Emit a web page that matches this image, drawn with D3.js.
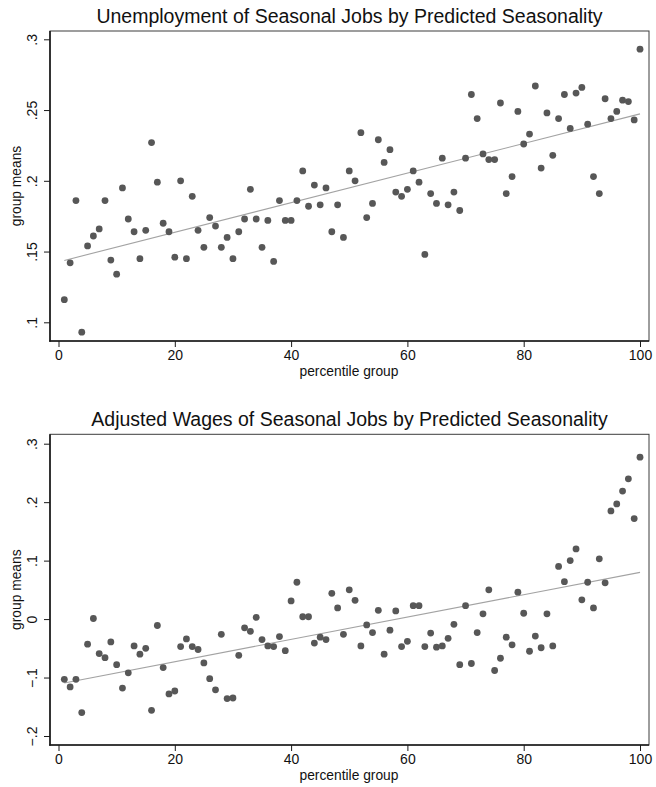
<!DOCTYPE html>
<html>
<head>
<meta charset="utf-8">
<script src="https://cdn.jsdelivr.net/npm/d3@7/dist/d3.min.js"></script>
<style>
  html, body { margin: 0; padding: 0; background: #fff; }
  svg { display: block; font-family: "Liberation Sans", Arial, Helvetica, sans-serif; }
</style>
</head>
<body>
<div id="chart"></div>
<script>
// percentile groups 1..100 (x categories)
const pctGroups = d3.range(1, 101);

// group means
const unempMeans = [
  0.116, 0.142, 0.186, 0.093, 0.154, 0.161, 0.166, 0.186, 0.144, 0.134,
  0.195, 0.173, 0.164, 0.145, 0.165, 0.227, 0.199, 0.170, 0.164, 0.146,
  0.200, 0.145, 0.189, 0.165, 0.153, 0.174, 0.168, 0.153, 0.160, 0.145,
  0.164, 0.173, 0.194, 0.173, 0.153, 0.172, 0.143, 0.186, 0.172, 0.172,
  0.186, 0.207, 0.182, 0.197, 0.183, 0.195, 0.164, 0.183, 0.160, 0.207,
  0.200, 0.234, 0.174, 0.184, 0.229, 0.213, 0.222, 0.192, 0.189, 0.194,
  0.207, 0.199, 0.148, 0.191, 0.184, 0.216, 0.183, 0.192, 0.179, 0.216,
  0.261, 0.244, 0.219, 0.215, 0.215, 0.255, 0.191, 0.203, 0.249, 0.226,
  0.233, 0.267, 0.209, 0.248, 0.218, 0.244, 0.261, 0.237, 0.262, 0.266,
  0.240, 0.203, 0.191, 0.258, 0.244, 0.249, 0.257, 0.256, 0.243, 0.293
];

const wageMeans = [
  -0.103, -0.116, -0.103, -0.160, -0.043, 0.001, -0.059, -0.066, -0.039, -0.078,
  -0.118, -0.092, -0.046, -0.060, -0.050, -0.156, -0.011, -0.083, -0.128, -0.123,
  -0.047, -0.034, -0.047, -0.052, -0.075, -0.102, -0.121, -0.026, -0.136, -0.135,
  -0.062, -0.015, -0.021, 0.003, -0.035, -0.046, -0.047, -0.030, -0.054, 0.031,
  0.063, 0.004, 0.004, -0.041, -0.031, -0.035, 0.044, 0.019, -0.026, 0.050,
  0.032, -0.046, -0.010, -0.023, 0.015, -0.060, -0.019, 0.014, -0.047, -0.038,
  0.023, 0.023, -0.047, -0.024, -0.048, -0.046, -0.033, -0.009, -0.078, 0.023,
  -0.076, -0.023, 0.009, 0.050, -0.088, -0.067, -0.031, -0.044, 0.046, 0.010,
  -0.055, -0.029, -0.049, 0.009, -0.046, 0.090, 0.064, 0.100, 0.120, 0.033,
  0.063, 0.019, 0.103, 0.062, 0.185, 0.197, 0.219, 0.240, 0.172, 0.277
];

const xTicks = [0, 20, 40, 60, 80, 100];
const unempTicks = [0.1, 0.15, 0.2, 0.25, 0.3];
const unempTickLabels = [".1", ".15", ".2", ".25", ".3"];
const wageTicks = [-0.2, -0.1, 0, 0.1, 0.2, 0.3];
const wageTickLabels = ["\u2212.2", "\u2212.1", "0", ".1", ".2", ".3"];

const titles = [
  "Unemployment of Seasonal Jobs by Predicted Seasonality",
  "Adjusted Wages of Seasonal Jobs by Predicted Seasonality"
];
const xTitle = "percentile group";
const yTitle = "group means";

const W = 656, H = 787;
const svg = d3.select("#chart").append("svg")
  .attr("width", W).attr("height", H).attr("viewBox", `0 0 ${W} ${H}`);
svg.append("rect").attr("width", W).attr("height", H).attr("fill", "#fff");

const DOT = "#575757", FIT = "#a3a3a3", AXIS = "#1a1a1a";

// simple least-squares fit
function olsFit(xs, ys){
  const mx = d3.mean(xs), my = d3.mean(ys);
  let sxy = 0, sxx = 0;
  xs.forEach((x,i)=>{ sxy += (x-mx)*(ys[i]-my); sxx += (x-mx)*(x-mx); });
  const b = sxy/sxx;
  return { a: my - b*mx, b };
}

function drawPanel(p){
  const { frameTop, frameBottom, yDomain, yRange, ticks, tickLabels, title, values } = p;
  const left = 50, right = 649;
  const x = d3.scaleLinear().domain([0, 100]).range([58.5, 640]);
  const y = d3.scaleLinear().domain(yDomain).range(yRange);
  const g = svg.append("g");

  // plot region border
  g.append("rect")
    .attr("x", left).attr("y", frameTop)
    .attr("width", right-left).attr("height", frameBottom-frameTop)
    .attr("fill", "none").attr("stroke", "#3c3c3c").attr("stroke-width", 1);

  // title
  g.append("text")
    .attr("x", (left+right)/2).attr("y", frameTop - 8.5)
    .attr("text-anchor", "middle")
    .style("font-size", "19.5px").attr("fill", "#111")
    .text(title);

  // fit line
  const fit = olsFit(pctGroups, values);
  const line = d3.line().x(d=>x(d)).y(d=>y(fit.a + fit.b*d));
  g.append("path").datum([pctGroups[0], pctGroups[pctGroups.length-1]])
    .attr("d", line).attr("fill", "none")
    .attr("stroke", FIT).attr("stroke-width", 1.1);

  // points
  g.selectAll("circle.pt").data(pctGroups).enter().append("circle")
    .attr("class", "pt")
    .attr("cx", d=>x(d))
    .attr("cy", (d,i)=>y(values[i]))
    .attr("r", 3.4)
    .attr("fill", DOT);

  // y axis
  const yAxis = d3.axisLeft(y).tickValues(ticks).tickSize(6).tickSizeOuter(0)
    .tickFormat((d,i)=>tickLabels[i]);
  const ya = g.append("g").attr("transform", `translate(${left},0)`).call(yAxis);
  ya.select(".domain").remove();
  ya.selectAll(".tick line").attr("stroke", AXIS);
  ya.selectAll(".tick text")
    .attr("transform", "rotate(-90)")
    .attr("x", 0).attr("y", -13).attr("dy", 0)
    .attr("text-anchor", "middle")
    .style("font-size", "14px").attr("fill", "#111");

  // x axis
  const xAxis = d3.axisBottom(x).tickValues(xTicks).tickSize(6).tickSizeOuter(0);
  const xa = g.append("g").attr("transform", `translate(0,${frameBottom})`).call(xAxis);
  xa.select(".domain").remove();
  xa.selectAll(".tick line").attr("stroke", AXIS);
  xa.selectAll(".tick text")
    .attr("y", 0).attr("dy", 18.5)
    .style("font-size", "14px").attr("fill", "#111");

  // axis lines (darker, over the border)
  g.append("line").attr("x1", left).attr("x2", left)
    .attr("y1", frameTop).attr("y2", frameBottom+0.8)
    .attr("stroke", AXIS).attr("stroke-width", 1.6);
  g.append("line").attr("x1", left-0.8).attr("x2", right)
    .attr("y1", frameBottom).attr("y2", frameBottom)
    .attr("stroke", AXIS).attr("stroke-width", 1.6);

  // axis titles
  g.append("text")
    .attr("x", (left+right)/2 - 0.5).attr("y", frameBottom + 35)
    .attr("text-anchor", "middle")
    .style("font-size", "13.8px").attr("fill", "#111")
    .text(xTitle);
  g.append("text")
    .attr("transform", `translate(21,${(frameTop+frameBottom)/2}) rotate(-90)`)
    .attr("text-anchor", "middle")
    .style("font-size", "13.8px").attr("fill", "#111")
    .text(yTitle);
}

drawPanel({
  frameTop: 31, frameBottom: 341,
  yDomain: [0.1, 0.3], yRange: [322.3, 39.3],
  ticks: unempTicks, tickLabels: unempTickLabels,
  title: titles[0], values: unempMeans
});
drawPanel({
  frameTop: 434.3, frameBottom: 745,
  yDomain: [-0.2, 0.3], yRange: [736, 443.7],
  ticks: wageTicks, tickLabels: wageTickLabels,
  title: titles[1], values: wageMeans
});
</script>
</body>
</html>
